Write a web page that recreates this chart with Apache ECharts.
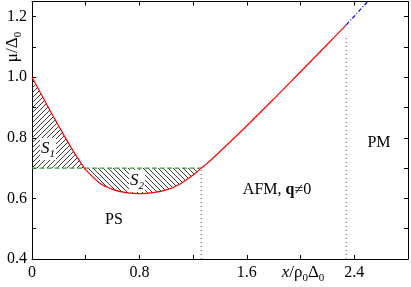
<!DOCTYPE html>
<html><head><meta charset="utf-8">
<script src="https://cdn.jsdelivr.net/npm/echarts@6/dist/echarts.min.js"></script>
<style>html,body{margin:0;padding:0;background:#fff}#c{width:411px;height:287px}</style>
</head><body><div id="c"></div>
<script>
// chemical potential curve mu(x)
const curveX  = [0, 0.1, 0.2, 0.3, 0.39, 0.4, 0.5, 0.6, 0.7, 0.8, 0.9, 1.0, 1.1, 1.2, 1.26, 1.3, 1.4, 1.6, 1.8, 2.0, 2.2, 2.34];
const curveMu = [1.000, 0.918, 0.838, 0.761, 0.700, 0.694, 0.652, 0.630, 0.619, 0.616, 0.619, 0.628, 0.647, 0.677, 0.700, 0.714, 0.755, 0.840, 0.928, 1.018, 1.109, 1.173];
// paramagnetic continuation
const extX  = [2.34, 2.42, 2.50];
const extMu = [1.173, 1.211, 1.25];
// Maxwell construction
const coexistMu = 0.70;
const s1Range = [0, 0.39];
const s2Range = [0.39, 1.26];
const coexistX = [0, 1.26];
// phase boundaries
const psBoundX = 1.26;
const psBoundMu = [0.4, 0.70];
const pmBoundX = 2.34;
const pmBoundMu = [0.4, 1.13];
// axes
const xMin = 0, xMax = 2.8, xStep = 0.4;
const yMin = 0.4, yMax = 1.25, yStep = 0.1;

const FONT = '"Liberation Serif","Times New Roman",serif';
const pts = (xs, ys) => xs.map((x, i) => [x, ys[i]]);
const curve = pts(curveX, curveMu);
const inRange = r => curve.filter(p => p[0] >= r[0] - 1e-9 && p[0] <= r[1] + 1e-9);

function hatch(dir) {
  const s = 5, c = document.createElement('canvas');
  c.width = c.height = s;
  const g = c.getContext('2d');
  g.strokeStyle = '#222'; g.lineWidth = 0.9; g.beginPath();
  if (dir > 0) {
    g.moveTo(0, s); g.lineTo(s, 0);
    g.moveTo(-1, 1); g.lineTo(1, -1);
    g.moveTo(s - 1, s + 1); g.lineTo(s + 1, s - 1);
  } else {
    g.moveTo(0, 0); g.lineTo(s, s);
    g.moveTo(s - 1, -1); g.lineTo(s + 1, 1);
    g.moveTo(-1, s - 1); g.lineTo(1, s + 1);
  }
  g.stroke();
  return c;
}

const axisBase = {
  type: 'value',
  axisLine: { show: true, onZero: false, lineStyle: { color: '#000', width: 1 } },
  axisTick: { show: true, inside: true, length: 4, lineStyle: { color: '#000' } },
  splitLine: { show: false }
};
const xFmt = v => { const k = Math.round(v * 10); return k % 8 === 0 ? (k === 0 ? '0' : (k / 10).toFixed(1)) : ''; };
const yFmt = v => { const k = Math.round(v * 10); return k % 2 === 0 ? (k / 10).toFixed(1) : ''; };

const richBase = {
  m: { fontFamily: FONT, fontSize: 17, color: '#000', lineHeight: 22, verticalAlign: 'middle' },
  i: { fontFamily: FONT, fontSize: 17, fontStyle: 'italic', color: '#000', lineHeight: 22, verticalAlign: 'middle' },
  b: { fontFamily: FONT, fontSize: 16, fontWeight: 'bold', color: '#000', lineHeight: 22, verticalAlign: 'middle' },
  t: { fontFamily: FONT, fontSize: 16, color: '#000', lineHeight: 22, verticalAlign: 'middle' },
  s: { fontFamily: FONT, fontSize: 11, color: '#000', lineHeight: 11, verticalAlign: 'bottom' },
  si: { fontFamily: FONT, fontSize: 11, fontStyle: 'italic', color: '#000', lineHeight: 11, verticalAlign: 'bottom' }
};
function txt(x, y, text, extra) {
  return {
    type: 'text', x: x, y: y, z: 100,
    style: Object.assign({ text: text, rich: richBase, align: 'center', verticalAlign: 'middle' }, extra || {})
  };
}

const chart = echarts.init(document.getElementById('c'), null, { renderer: 'canvas' });
chart.setOption({
  animation: false,
  backgroundColor: '#fff',
  grid: { left: 32, right: 1.5, top: 1.5, bottom: 28, containLabel: false },
  xAxis: [
    Object.assign({}, axisBase, { min: xMin, max: xMax, interval: xStep, position: 'bottom',
      axisLabel: { formatter: xFmt, fontFamily: FONT, fontSize: 16, color: '#000', margin: 6 } }),
    Object.assign({}, axisBase, { min: xMin, max: xMax, interval: xStep, position: 'top', axisLabel: { show: false } })
  ],
  yAxis: [
    Object.assign({}, axisBase, { min: yMin, max: yMax, interval: yStep, position: 'left',
      axisLabel: { formatter: yFmt, fontFamily: FONT, fontSize: 16, color: '#000', margin: 5 } }),
    Object.assign({}, axisBase, { min: yMin, max: yMax, interval: yStep, position: 'right', axisLabel: { show: false } })
  ],
  series: [
    { type: 'line', name: 'S1', data: inRange(s1Range), smooth: 0.3, showSymbol: false,
      lineStyle: { width: 0, opacity: 0 }, z: 1,
      areaStyle: { origin: coexistMu, opacity: 1, color: { image: hatch(1), repeat: 'repeat' } } },
    { type: 'line', name: 'S2', data: inRange(s2Range), smooth: 0.3, showSymbol: false,
      lineStyle: { width: 0, opacity: 0 }, z: 1,
      areaStyle: { origin: coexistMu, opacity: 1, color: { image: hatch(-1), repeat: 'repeat' } } },
    { type: 'line', name: 'psBound', data: psBoundMu.map(m => [psBoundX, m]), showSymbol: false, z: 2,
      lineStyle: { color: '#555', width: 1, type: [1, 3] } },
    { type: 'line', name: 'pmBound', data: pmBoundMu.map(m => [pmBoundX, m]), showSymbol: false, z: 2,
      lineStyle: { color: '#555', width: 1, type: [1, 3] } },
    { type: 'line', name: 'maxwell', data: coexistX.map(x => [x, coexistMu]), showSymbol: false, z: 3,
      lineStyle: { color: '#3c9a3c', width: 1.3, type: [5, 2.5] } },
    { type: 'line', name: 'mu', data: curve, smooth: 0.3, showSymbol: false, z: 4,
      lineStyle: { color: '#ff0000', width: 1.2 } },
    { type: 'line', name: 'pm', data: pts(extX, extMu), showSymbol: false, z: 4, clip: true,
      lineStyle: { color: '#0000ff', width: 1.2, type: [4, 2, 1, 2] } }
  ],
  graphic: [
    Object.assign(txt(13, 47, '{m|μ/Δ}{s|0}'), { rotation: Math.PI / 2 }),
    txt(303, 273, '{i|x}{m|/ρ}{s|0}{m|Δ}{s|0}'),
    txt(48, 149, '{i|S}{si|1}', { backgroundColor: '#fff', padding: [0, 1] }),
    txt(137, 181, '{i|S}{si|2}', { backgroundColor: '#fff', padding: [0, 1] }),
    txt(114, 220, '{t|PS}'),
    txt(277, 190, '{t|AFM, }{b|q}{t|≠0}'),
    txt(379, 143, '{t|PM}')
  ]
});
</script></body></html>
